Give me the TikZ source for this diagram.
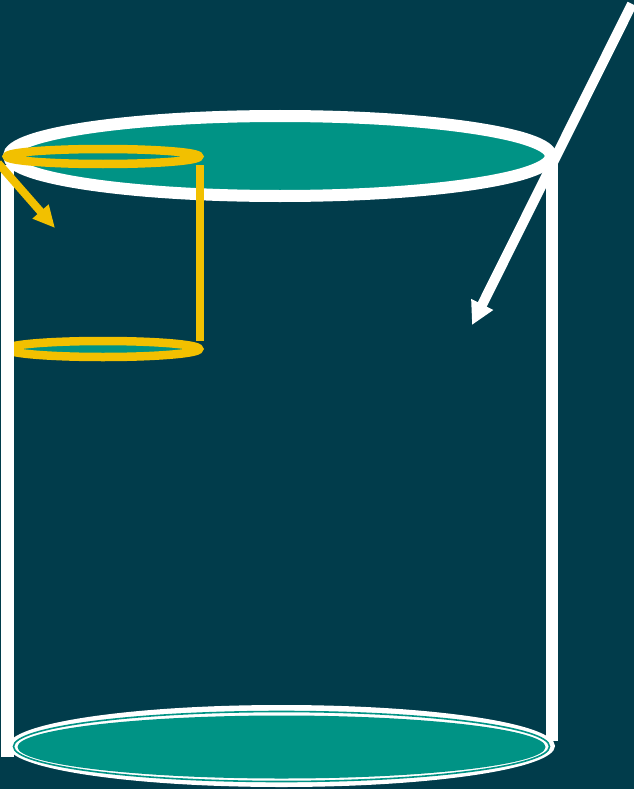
\documentclass[tikz,border=0pt]{standalone}
\usetikzlibrary{arrows.meta}
\definecolor{bgc}{RGB}{1,60,75}
\definecolor{tealc}{RGB}{0,147,133}
\definecolor{yel}{RGB}{242,192,0}
\tikzset{
  whiteline/.style={draw=white,line width=12pt},
  yelline/.style={draw=yel,line width=8.5pt},
}
\begin{document}
\begin{tikzpicture}[x=1pt,y=-1pt]
\fill[bgc] (0,0) rectangle (634,789);
\useasboundingbox (0,0) rectangle (634,789);
% top ellipse
\draw[whiteline,fill=tealc] (280,156) ellipse [x radius=271,y radius=40];
% top yellow ellipse
\draw[yelline] (103,156.5) ellipse [x radius=96,y radius=7.5];
% lower yellow ellipse
\draw[yelline,fill=tealc] (103,349) ellipse [x radius=96,y radius=8];
% yellow vertical
\draw[yelline] (200,165) -- (200,341);
% white verticals
\draw[draw=white,line width=13pt] (7.5,165) -- (7.5,757);
\draw[draw=white,line width=12pt] (552,163) -- (552,741);
% bottom ellipse
\fill[white] (281.5,746) ellipse [x radius=273.5,y radius=41];
\draw[draw=tealc,line width=1.6pt] (281.5,746.5) ellipse [x radius=268,y radius=35];
\fill[tealc] (281.5,747) ellipse [x radius=264,y radius=31.5];
% arrows
\coordinate (ya) at (-2,163);
\coordinate (yb) at (55,228);
\draw[draw=yel,line width=8pt,-{Triangle[length=22pt,width=20pt]}] (ya) -- (yb);
\coordinate (wa) at (632,4);
\coordinate (wb) at (472,325);
\draw[draw=white,line width=10pt,-{Triangle[length=23pt,width=23pt]}] (wa) -- (wb);
\end{tikzpicture}
\end{document}
